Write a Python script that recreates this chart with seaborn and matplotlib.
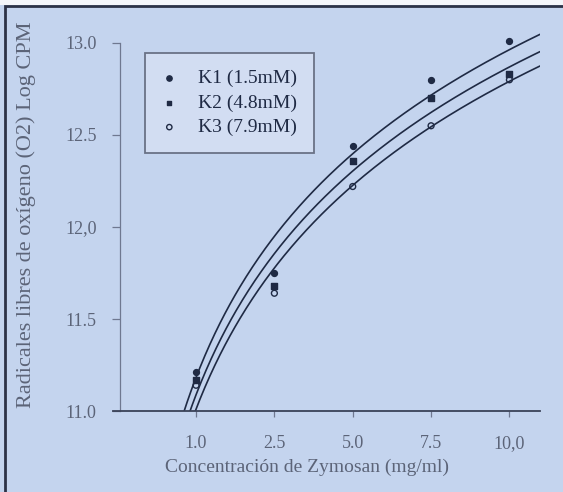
import numpy as np
import pandas as pd
import matplotlib
matplotlib.use("Agg")
import matplotlib.pyplot as plt
from matplotlib.patches import Rectangle
import seaborn as sns

# ── Data ──────────────────────────────────────────────────────────────
zymosan_labels = ["1.0", "2.5", "5.0", "7.5", "10,0"]
positions      = [1, 2, 3, 4, 5]
k1 = [11.21, 11.75, 12.44, 12.80, 13.01]
k2 = [11.17, 11.68, 12.36, 12.70, 12.83]
k3 = [11.14, 11.64, 12.22, 12.55, 12.80]
series_names = ["K1 (1.5mM)", "K2 (4.8mM)", "K3 (7.9mM)"]
y_ticks  = [11.0, 11.5, 12.0, 12.5, 13.0]
y_labels = ["11.0", "11.5", "12,0", "12.5", "13.0"]

BG     = "#c4d4ee"
INK    = "#1f2a44"
GREY   = "#5c6478"

sns.set_theme(style="white")
plt.rcParams["font.family"] = ["Liberation Serif", "DejaVu Serif"]

fig = plt.figure(figsize=(5.63, 4.92), dpi=100, facecolor=BG)
ax = fig.add_axes([0.2007, 0.1646, 0.7584, 0.778])
ax.set_facecolor(BG)

# ── Log fits (common slope, one intercept per series) ─────────────────
x = np.array(positions, dtype=float)
lx = np.log(x)
series = [np.array(v) for v in (k1, k2, k3)]
sxx = ((lx - lx.mean()) ** 2).sum()
slope = sum(((lx - lx.mean()) * (v - v.mean())).sum() for v in series) / (3 * sxx)
grid = np.linspace(0.6, 5.39, 300)

markers = [
    dict(marker="o", color=INK, edgecolor=INK, s=18),
    dict(marker="s", color=INK, edgecolor=INK, s=14),
    dict(marker="o", color="none", edgecolor=INK, s=18, linewidth=1.0),
]
handles = []
for vals, name, mk in zip(series, series_names, markers):
    intercept = vals.mean() - slope * lx.mean()
    fit = pd.DataFrame({"x": grid, "y": intercept + slope * np.log(grid)})
    sns.lineplot(data=fit, x="x", y="y", ax=ax, color=INK, linewidth=1.2,
                 estimator=None, sort=False)
    h = ax.scatter(x, vals, zorder=5, label=name, **mk)
    handles.append(h)

# ── Axes styling ──────────────────────────────────────────────────────
ax.set_xlim(-0.06, 5.39)
ax.set_ylim(11.0, 13.08)
ax.set_xticks(positions)
ax.set_xticklabels(zymosan_labels)
ax.set_yticks(y_ticks)
ax.set_yticklabels(y_labels)

for side in ["top", "right"]:
    ax.spines[side].set_visible(False)
ax.spines["left"].set_position(("data", 0.03))
ax.spines["left"].set_bounds(11.0, 13.0)
ax.spines["left"].set_color("#6f7890")
ax.spines["left"].set_linewidth(0.9)
ax.spines["bottom"].set_color("#3a4258")
ax.spines["bottom"].set_linewidth(1.3)

ax.tick_params(axis="y", direction="out", length=6, width=0.9,
               color="#6f7890", pad=11, labelsize=13, labelcolor=GREY, left=True)
ax.tick_params(axis="x", direction="out", length=4, width=0.9,
               color="#6f7890", pad=13, labelsize=13, labelcolor=GREY, bottom=True)

ax.set_xlabel("Concentración de Zymosan (mg/ml)", fontsize=14, color=GREY)
ax.xaxis.set_label_coords(0.454, -0.125)
ax.set_ylabel("Radicales libres de oxígeno (O2) Log CPM", fontsize=16,
              color=GREY)
ax.yaxis.set_label_coords(-0.18, 0.512)

leg = ax.legend(handles=handles, labels=series_names, loc="upper left",
                bbox_to_anchor=(0.075, 0.935), frameon=True, fontsize=14,
                handletextpad=1.1, borderpad=0.85, labelspacing=0.35,
                handlelength=0.8, borderaxespad=0, fancybox=False,
                markerscale=0.9)
leg.get_frame().set_facecolor("#d2ddf2")
leg.get_frame().set_edgecolor("#6a7286")
leg.get_frame().set_linewidth(1.3)
leg.get_frame().set_alpha(1)
for t in leg.get_texts():
    t.set_color(INK)

# ── Scan frame (dark left/top edge) ───────────────────────────────────
fig.patches.append(Rectangle((5 / 563, -0.1), 1.2, (486 / 492) + 0.1,
                             transform=fig.transFigure, fill=False,
                             edgecolor="#2c3246", linewidth=2.0))
fig.patches.append(Rectangle((0, 487 / 492), 1, 5 / 492,
                             transform=fig.transFigure, facecolor="#f4f6fa",
                             edgecolor="none"))

fig.savefig("out.png", dpi=100, facecolor=BG)
